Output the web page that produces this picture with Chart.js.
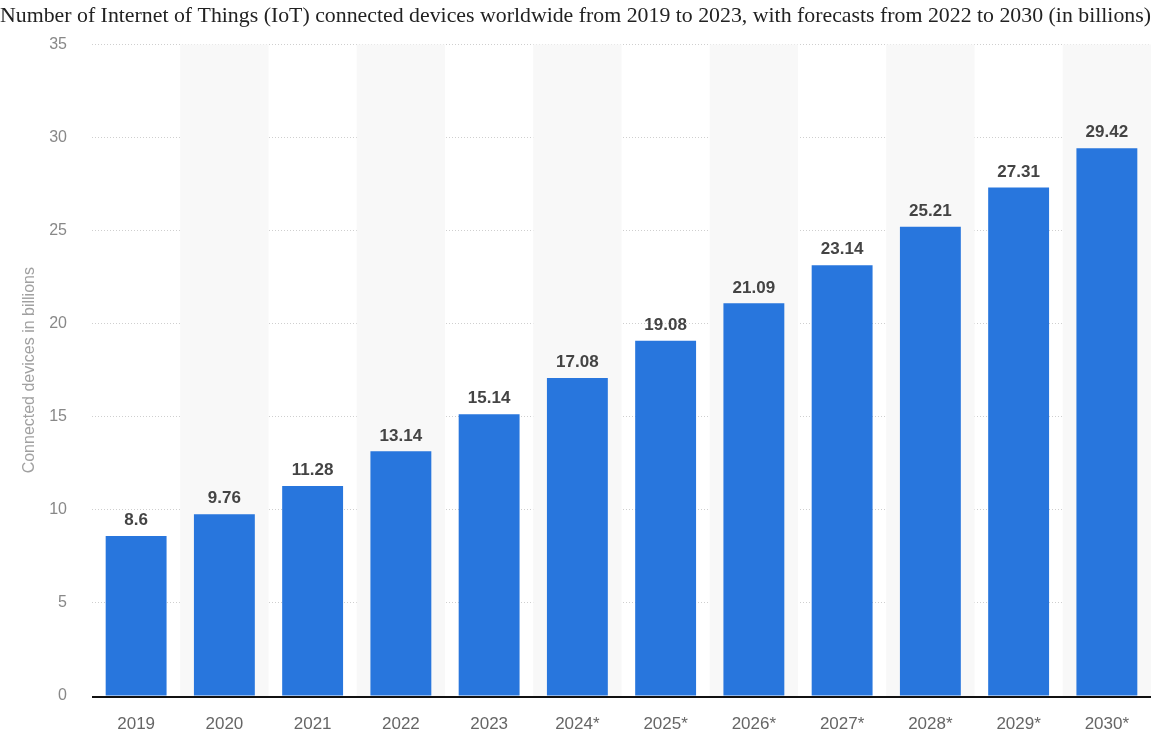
<!DOCTYPE html>
<html>
<head>
<meta charset="utf-8">
<script src="https://cdn.jsdelivr.net/npm/chart.js@4"></script>
<style>
  html, body { margin: 0; padding: 0; background: #fff; }
  #wrap { width: 1176px; height: 736px; }
</style>
</head>
<body>
<div id="wrap"><canvas id="myChart"></canvas></div>
<script>
const anos = ['2019', '2020', '2021', '2022', '2023', '2024*', '2025*', '2026*', '2027*', '2028*', '2029*', '2030*']
const dispositivos = [8.6, 9.76, 11.28, 13.14, 15.14, 17.08, 19.08, 21.09, 23.14, 25.21, 27.31, 29.42]
const ticksY = [0, 5, 10, 15, 20, 25, 30, 35]

// faixas cinza atras das colunas pares
const faixas = {
  id: 'faixas',
  beforeDatasetsDraw(chart) {
    const { ctx, chartArea, scales } = chart
    const largura = scales.x.getPixelForValue(1) - scales.x.getPixelForValue(0)
    ctx.save()
    ctx.fillStyle = '#f8f8f8'
    anos.forEach((a, i) => {
      if (i % 2 === 1) {
        const cx = scales.x.getPixelForValue(i)
        ctx.fillRect(cx - largura / 2, chartArea.top, largura, chartArea.bottom - chartArea.top)
      }
    })
    ctx.restore()
  },
}

// valores em cima das barras + linha base
const rotulos = {
  id: 'rotulos',
  afterDatasetsDraw(chart) {
    const { ctx, chartArea } = chart
    const meta = chart.getDatasetMeta(0)
    ctx.save()
    ctx.strokeStyle = '#111'
    ctx.lineWidth = 2
    ctx.beginPath()
    ctx.moveTo(chartArea.left, chartArea.bottom + 1)
    ctx.lineTo(chartArea.right, chartArea.bottom + 1)
    ctx.stroke()

    ctx.font = 'bold 17px "Liberation Sans", Arial, sans-serif'
    ctx.fillStyle = '#444'
    ctx.textAlign = 'center'
    ctx.textBaseline = 'bottom'
    meta.data.forEach((bar, i) => {
      ctx.fillText(String(dispositivos[i]), bar.x, bar.y - 7)
    })
    ctx.restore()
  }
}

new Chart(document.getElementById('myChart'), {
  type: 'bar',
  data: {
    labels: anos,
    datasets: [{
      data: dispositivos,
      backgroundColor: '#2876dd',
      borderWidth: 0,
      categoryPercentage: 1,
      barPercentage: 0.69,
    }],
  },
  options: {
    responsive: true,
    maintainAspectRatio: false,
    animation: false,
    layout: { padding: { left: 0, right: 25, top: 0, bottom: 0 } },
    plugins: {
      legend: { display: false },
      tooltip: { enabled: false },
      title: {
        display: true,
        text: 'Number of Internet of Things (IoT) connected devices worldwide from 2019 to 2023, with forecasts from 2022 to 2030 (in billions)',
        font: { family: '"Liberation Serif", "Times New Roman", serif', size: 22, weight: 'normal' },
        color: '#222',
        padding: { top: 3, bottom: 15 },
      },
    },
    scales: {
      x: {
        afterFit(axis) { axis.height = 40 },
        grid: { display: false },
        border: { display: false },
        ticks: {
          color: '#666',
          font: { family: '"Liberation Sans", Arial, sans-serif', size: 17 },
          padding: 10,
        },
      },
      y: {
        min: 0,
        max: 35,
        afterBuildTicks(axis) { axis.ticks = ticksY.map(v => ({ value: v })) },
        afterFit(axis) { axis.width = 92 },
        grid: { color: '#cfcfcf', drawTicks: false, lineWidth: 1 },
        border: { display: false, dash: [1, 2] },
        ticks: {
          color: '#888',
          font: { family: '"Liberation Sans", Arial, sans-serif', size: 16 },
          padding: 25,
        },
        title: {
          display: true,
          text: 'Connected devices in billions',
          color: '#a0a0a0',
          font: { family: '"Liberation Sans", Arial, sans-serif', size: 16 },
          padding: { top: 20, bottom: 0 },
        },
      },
    },
  },
  plugins: [faixas, rotulos],
})
</script>
</body>
</html>
